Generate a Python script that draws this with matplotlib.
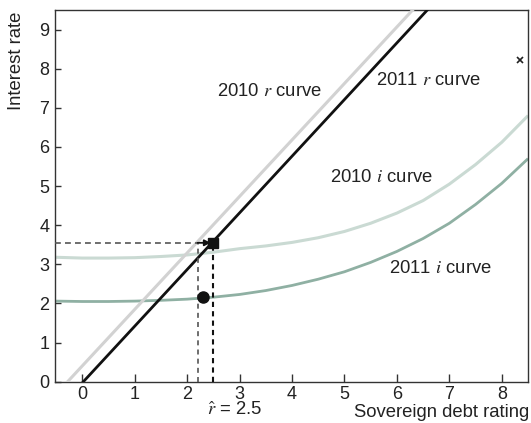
import matplotlib
matplotlib.use("Agg")
import matplotlib.pyplot as plt

plt.rcParams['font.family'] = ['Liberation Sans', 'DejaVu Sans']
plt.rcParams['mathtext.fontset'] = 'stix'

# ---- data ----
r2010_x = [-0.28, 6.30]
r2010_y = [0.0, 9.5]
r2011_x = [0.02, 6.58]
r2011_y = [0.0, 9.5]

i_x = [-0.5, 0.0, 0.5, 1.0, 1.5, 2.0, 2.5, 3.0, 3.5, 4.0, 4.5, 5.0,
       5.5, 6.0, 6.5, 7.0, 7.5, 8.0, 8.5]
i2010_y = [3.18, 3.16, 3.16, 3.17, 3.20, 3.24, 3.31, 3.40, 3.47, 3.56,
           3.68, 3.84, 4.05, 4.31, 4.63, 5.05, 5.55, 6.12, 6.80]
i2011_y = [2.06, 2.05, 2.05, 2.06, 2.08, 2.11, 2.16, 2.23, 2.33, 2.46,
           2.62, 2.81, 3.05, 3.33, 3.66, 4.05, 4.53, 5.07, 5.70]

r_hat = 2.5
r_old = 2.2
i_level = 3.55
dot_x, dot_y = 2.31, 2.17
cross_x, cross_y = 8.35, 8.21

x_ticks = [0, 1, 2, 3, 4, 5, 6, 7, 8]
y_ticks = [0, 1, 2, 3, 4, 5, 6, 7, 8, 9]

# ---- figure ----
fig = plt.figure(figsize=(5.31, 4.23), dpi=100)
ax = fig.add_axes([0.1036, 0.0976, 0.8908, 0.8788])
ax.set_xlim(-0.52, 8.5)
ax.set_ylim(0, 9.5)

c_r2010 = '#d2d2d2'
c_r2011 = '#111111'
c_i2010 = '#cadad3'
c_i2011 = '#8fb0a3'

ax.plot(i_x, i2010_y, color=c_i2010, lw=2.2, solid_capstyle='butt', zorder=2)
ax.plot(i_x, i2011_y, color=c_i2011, lw=2.0, solid_capstyle='butt', zorder=2)
ax.plot(r2010_x, r2010_y, color=c_r2010, lw=2.2, zorder=3)
ax.plot(r2011_x, r2011_y, color=c_r2011, lw=2.0, zorder=4)

# guide lines
ax.plot([-0.52, r_old], [i_level, i_level], color='#555555', lw=1.2,
        dashes=(3.5, 2.5), zorder=5)
ax.plot([r_old, r_old], [0, i_level], color='#555555', lw=1.2,
        dashes=(3, 2.5), zorder=5)
ax.plot([r_hat, r_hat], [0, i_level], color='#111111', lw=1.5,
        dashes=(2.5, 2), zorder=5)
ax.annotate('', xy=(r_hat - 0.05, i_level), xytext=(r_old, i_level),
            arrowprops=dict(arrowstyle='-|>', color='#111111', lw=1.3,
                            mutation_scale=9, shrinkA=0, shrinkB=0),
            zorder=6)
ax.plot([r_hat], [i_level], marker='s', ms=6.5, color='#111111', zorder=7)
ax.plot([dot_x], [dot_y], marker='o', ms=8, color='#111111', zorder=7)
ax.plot([cross_x], [cross_y], marker='x', ms=5, mew=1.2, color='#222222', zorder=7)

# labels on curves
fs = 13.3
tc = '#222222'
ax.text(2.57, 7.42, r'2010 $r$ curve', fontsize=fs, va='center', ha='left', color=tc)
ax.text(5.61, 7.69, r'2011 $r$ curve', fontsize=fs, va='center', ha='left', color=tc)
ax.text(4.72, 5.23, r'2010 $i$ curve', fontsize=fs, va='center', ha='left', color=tc)
ax.text(5.84, 2.90, r'2011 $i$ curve', fontsize=fs, va='center', ha='left', color=tc)

# axes styling
for s in ax.spines.values():
    s.set_color('#333333')
    s.set_linewidth(1.0)
ax.set_xticks(x_ticks)
ax.set_yticks(y_ticks)
ax.tick_params(axis='x', direction='in', length=6, width=1, color='#333333',
               labelsize=13, pad=3, labelcolor=tc)
ax.tick_params(axis='y', direction='in', length=4, width=1, color='#333333',
               labelsize=13, pad=4, labelcolor=tc)

fig.text(0.032, 0.972, 'Interest rate', rotation=90, ha='center', va='top',
         fontsize=13.3, color=tc)
fig.text(0.996, 0.004, 'Sovereign debt rating', ha='right', va='bottom',
         fontsize=13.3, color=tc)
ax.text(r_hat - 0.13, -0.74, r'$\hat{r}$ = 2.5', ha='left', va='center',
        fontsize=13.3, color=tc, transform=ax.transData, clip_on=False)

fig.savefig('out.png', dpi=100)
